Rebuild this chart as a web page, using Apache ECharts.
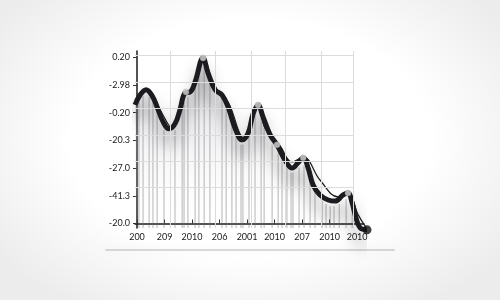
<!DOCTYPE html>
<html><head><meta charset="utf-8">
<script src="https://cdn.jsdelivr.net/npm/echarts@6/dist/echarts.min.js"></script>
<style>
html,body{margin:0;padding:0;width:500px;height:300px;overflow:hidden;
background: radial-gradient(ellipse 62% 68% at 50% 46%, #ffffff 58%, #ececec 100%);}
#c{width:500px;height:300px;}
</style></head><body><div id="c"></div>
<script>
const xLabels = ["200","209","2010","206","2001","2010","207","2010","2010"];
const yLabels = ["-20.0","-41.3","-27.0","-20.3","-0.20","-2.98","0.20"];
const mainLine = [[-0.07,4.28],[0.11,4.64],[0.33,4.83],[0.55,4.61],[0.73,4.21],[0.95,3.67],[1.16,3.42],[1.38,3.60],[1.56,4.10],[1.75,4.72],[1.93,4.75],[2.11,5.11],[2.40,5.98],[2.58,5.44],[2.84,4.83],[3.09,4.64],[3.31,4.21],[3.56,3.45],[3.82,3.02],[4.04,3.27],[4.22,3.96],[4.40,4.28],[4.58,3.85],[4.84,3.20],[5.09,2.84],[5.38,2.29],[5.64,2.00],[5.85,2.19],[6.04,2.37],[6.22,2.00],[6.40,1.39],[6.65,1.03],[6.95,0.85],[7.20,0.81],[7.49,1.03],[7.67,1.10],[7.82,0.74],[7.96,0.20],[8.11,-0.16],[8.36,-0.23]];
const trendLine = [[-0.07,4.46],[0.36,4.79],[0.84,4.10],[1.27,3.45],[1.71,4.64],[1.93,4.72],[2.40,5.95],[2.84,4.90],[3.31,4.39],[3.89,3.09],[4.40,4.25],[4.65,3.45],[5.20,2.80],[5.64,2.22],[6.04,2.40],[6.65,1.57],[7.31,0.96],[7.67,1.07],[8.04,0.31],[8.36,-0.20]];
const dropLines = [[0.07,4.39],[0.22,4.61],[0.44,4.57],[0.58,4.39],[0.73,4.03],[0.98,3.38],[1.38,3.38],[1.64,4.18],[1.71,4.39],[1.85,4.57],[2.11,4.90],[2.25,5.33],[2.44,5.69],[2.65,5.04],[3.09,4.50],[3.24,4.18],[3.45,3.56],[3.60,3.16],[3.78,2.85],[3.85,2.85],[4.07,3.16],[4.29,3.88],[4.51,3.81],[4.62,3.52],[4.91,2.85],[5.13,2.54],[5.27,2.30],[5.45,2.02],[5.60,1.84],[5.67,1.84],[5.89,2.02],[6.07,2.09],[6.29,1.57],[6.47,1.10],[6.73,0.81],[6.87,0.70],[7.02,0.63],[7.16,0.63],[7.35,0.70],[7.60,0.88],[7.82,0.56]];
const peakDots = [[1.78,4.75],[2.40,5.98],[4.40,4.28],[5.09,2.84],[6.04,2.37],[7.67,1.10]];
const endDot = [[8.36,-0.23]];
const gridYValues = [6.09,5.11,4.17,3.20,2.26,1.32];
const gridXValues = [1.20,2.84,4.15,5.38,6.69,7.85];

const X_MIN = -0.073, X_MAX = 8.25, Y_MIN = -0.163, Y_MAX = 6.23, GRID_X_END = 7.85;
const idx = (n)=>Array.from({length:n},(_, i)=>i);

const gridMarks = [];
gridYValues.forEach(v=>gridMarks.push([{coord:[X_MIN,v]},{coord:[GRID_X_END,v]}]));
gridXValues.forEach(v=>gridMarks.push([{coord:[v,Y_MIN]},{coord:[v,Y_MAX]}]));

const chart = echarts.init(document.getElementById('c'), null, {renderer:'canvas'});
chart.setOption({
  animation:false,
  backgroundColor:'transparent',
  grid:{left:135,right:136,top:51,bottom:72},
  graphic:[{type:'rect',shape:{x:105,y:249,width:290,height:2,r:1},
    style:{fill:'rgba(150,150,150,0.35)',shadowBlur:8,shadowColor:'rgba(0,0,0,0.18)'},z:-1}],
  xAxis:{type:'value',min:X_MIN,max:X_MAX,
    axisLine:{show:true,lineStyle:{color:'#1a1a1a',width:1.5}},
    axisTick:{show:true,inside:true,length:4,customValues:idx(9),lineStyle:{color:'#333'}},
    axisLabel:{customValues:idx(9),formatter:v=>xLabels[Math.round(v)],color:'#1a1a1a',fontFamily:'Lato',fontSize:9,margin:5},
    splitLine:{show:false}},
  yAxis:{type:'value',min:Y_MIN,max:Y_MAX,
    axisLine:{show:true,lineStyle:{color:'#1a1a1a',width:1.5}},
    axisTick:{show:true,length:4,customValues:idx(7),lineStyle:{color:'#333'}},
    axisLabel:{customValues:idx(7),formatter:v=>yLabels[Math.round(v)],color:'#1a1a1a',fontFamily:'Lato',fontSize:9,margin:5},
    splitLine:{show:false}},
  series:[
    {type:'line',data:mainLine,smooth:0.4,symbol:'none',silent:true,z:1,
      lineStyle:{width:0},
      areaStyle:{color:new echarts.graphic.LinearGradient(0,0,0,1,[
        {offset:0,color:'rgba(140,140,150,0.55)'},{offset:0.35,color:'rgba(170,170,180,0.35)'},{offset:0.75,color:'rgba(230,230,235,0.15)'},{offset:1,color:'rgba(255,255,255,0)'}])},
      markLine:{silent:true,symbol:'none',label:{show:false},lineStyle:{color:'#dcdcdc',width:1,type:'solid'},data:gridMarks}},
    {type:'custom',z:2,silent:true,data:dropLines,
      renderItem:(params,api)=>{
        const p0 = api.coord([api.value(0),Y_MIN]);
        const p1 = api.coord([api.value(0),api.value(1)]);
        return {type:'line',shape:{x1:p0[0],y1:p0[1],x2:p1[0],y2:p1[1]},style:{stroke:'rgba(110,110,115,0.5)',lineWidth:1}};
      }},
    {type:'line',data:trendLine,smooth:0.4,symbol:'none',silent:true,z:3,clip:false,
      lineStyle:{color:'#1a1a1a',width:1.2}},
    {type:'line',data:mainLine,smooth:0.4,symbol:'none',silent:true,z:4,clip:false,
      lineStyle:{color:'#1c1c20',width:5,shadowColor:'rgba(0,0,0,0.38)',shadowBlur:16,shadowOffsetY:14}},
    {type:'scatter',data:peakDots,symbolSize:6,z:5,silent:true,
      itemStyle:{color:'#d8d8d8',borderColor:'#999',borderWidth:0.5}},
    {type:'scatter',data:endDot,symbolSize:9,z:6,silent:true,clip:false,
      itemStyle:{color:'#111'}}
  ]
});
</script></body></html>
